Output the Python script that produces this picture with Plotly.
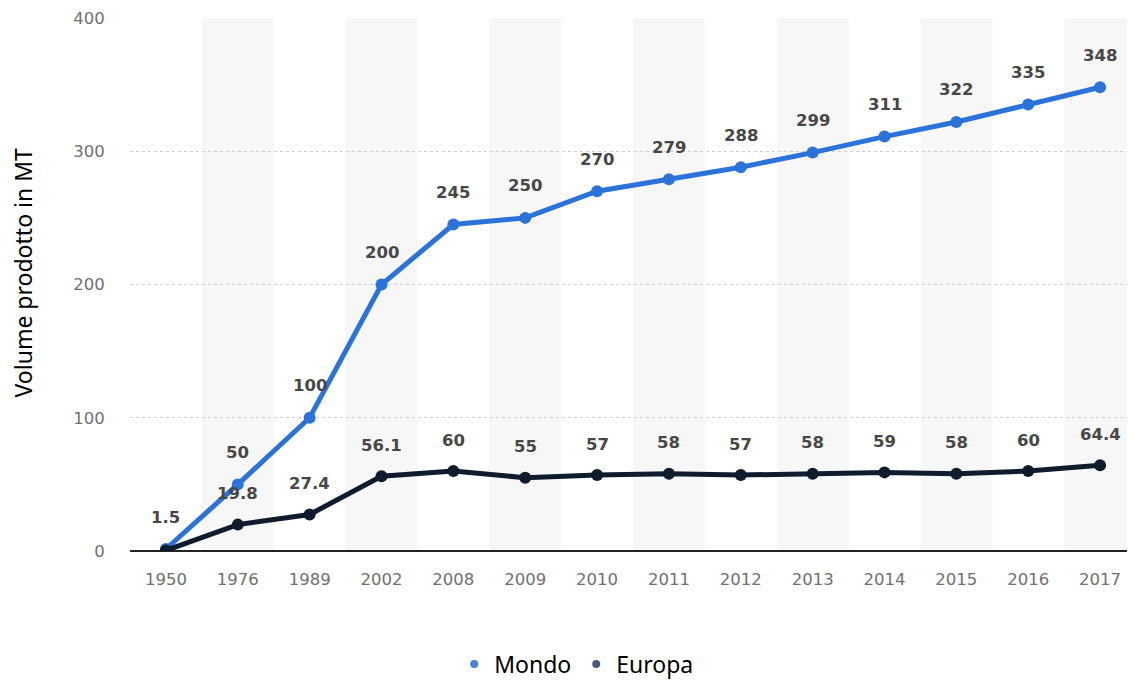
import plotly.graph_objects as go

years = ["1950", "1976", "1989", "2002", "2008", "2009", "2010", "2011",
         "2012", "2013", "2014", "2015", "2016", "2017"]
mondo = [1.5, 50, 100, 200, 245, 250, 270, 279, 288, 299, 311, 322, 335, 348]
europa = [0.4, 19.8, 27.4, 56.1, 60, 55, 57, 58, 57, 58, 59, 58, 60, 64.4]
europa_labels = ["", "19.8", "27.4", "56.1", "60", "55", "57", "58", "57", "58", "59", "58", "60", "64.4"]
mondo_labels = ["1.5", "50", "100", "200", "245", "250", "270", "279", "288", "299", "311", "322", "335", "348"]
yticks = [0, 100, 200, 300, 400]
y_title = "Volume prodotto in MT"

C_MONDO = "#2b72d9"
C_EUROPA = "#0e1c2e"

fig = go.Figure()

# shaded category bands (odd indices)
for i in range(1, len(years), 2):
    fig.add_shape(type="rect", xref="x", yref="paper", x0=i - 0.5, x1=i + 0.5,
                  y0=0, y1=1, fillcolor="#f7f7f7", line_width=0, layer="below")

fig.add_trace(go.Scatter(x=list(range(len(years))), y=mondo, mode="lines+markers",
                         line=dict(color=C_MONDO, width=5), marker=dict(size=12, color=C_MONDO),
                         showlegend=False, hoverinfo="skip"))
fig.add_trace(go.Scatter(x=list(range(len(years))), y=europa, mode="lines+markers",
                         line=dict(color=C_EUROPA, width=5), marker=dict(size=12, color=C_EUROPA),
                         showlegend=False, hoverinfo="skip"))

# legend-only traces
fig.add_trace(go.Scatter(x=[None], y=[None], mode="markers", name="Mondo",
                         marker=dict(size=8, color="#4a7fd6")))
fig.add_trace(go.Scatter(x=[None], y=[None], mode="markers", name="Europa",
                         marker=dict(size=8, color="#4b5a76")))

label_font = dict(family="DejaVu Sans", size=16.5, color="#474747")
for i, (v, t) in enumerate(zip(mondo, mondo_labels)):
    if t:
        fig.add_annotation(x=i, y=v, text="<b>" + t + "</b>", showarrow=False, yshift=32,
                           font=label_font)
for i, (v, t) in enumerate(zip(europa, europa_labels)):
    if t:
        fig.add_annotation(x=i, y=v, text="<b>" + t + "</b>", showarrow=False, yshift=31,
                           font=label_font)

# y axis title
fig.add_annotation(x=0, y=0.5, xref="paper", yref="paper", text=y_title, textangle=-90,
                   showarrow=False, xanchor="center", yanchor="middle", xshift=-108, yshift=12,
                   font=dict(family="Noto Sans", size=23, color="#000000"))

fig.update_layout(
    width=1135, height=672,
    margin=dict(l=122, r=7, t=10, b=129, autoexpand=False),
    plot_bgcolor="white", paper_bgcolor="white",
    legend=dict(orientation="h", xref="paper", yref="paper", x=0.444, y=-0.212,
                xanchor="center", yanchor="middle",
                font=dict(family="Noto Sans", size=23, color="#000000"),
                itemwidth=30, tracegroupgap=0),
    xaxis=dict(range=[-0.5, len(years) - 0.5], tickmode="array",
               tickvals=list(range(len(years))), ticktext=years,
               showgrid=False, zeroline=False, showline=False, automargin=False,
               tickfont=dict(family="DejaVu Sans", size=16.5, color="#707070"),
               ticks="outside", ticklen=13, tickcolor="rgba(0,0,0,0)"),
    yaxis=dict(range=[0, 400], tickmode="array", tickvals=yticks,
               showgrid=True, gridcolor="#cfcfcf", griddash="dot", gridwidth=1,
               zeroline=True, zerolinecolor="#222222", zerolinewidth=1.5,
               showline=False, automargin=False,
               tickfont=dict(family="DejaVu Sans", size=16.5, color="#707070"),
               ticks="outside", ticklen=21, tickcolor="rgba(0,0,0,0)"),
)

fig.write_html("out.html")
